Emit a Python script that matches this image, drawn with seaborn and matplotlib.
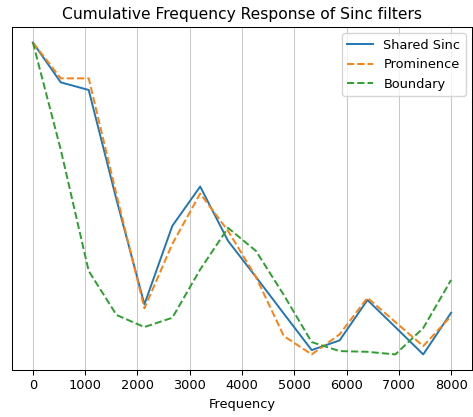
import numpy as np
import pandas as pd
import matplotlib
matplotlib.use("Agg")
import matplotlib.pyplot as plt
import seaborn as sns

freqs = [0, 533, 1067, 1600, 2133, 2667, 3200, 3733, 4267, 4800, 5333, 5867, 6400, 6933, 7467, 8000]
shared_sinc = [32.8, 28.83, 28.07, 17.1, 6.67, 14.5, 18.43, 13.0, 9.4, 5.74, 2.1, 3.07, 7.1, 4.4, 1.67, 5.83]
prominence = [32.8, 29.23, 29.23, 17.6, 6.27, 12.7, 17.73, 14.0, 9.4, 3.5, 1.67, 3.67, 7.33, 4.9, 2.5, 5.5]
boundary = [32.8, 22.1, 10.0, 5.6, 4.4, 5.33, 10.15, 14.3, 12.0, 7.6, 2.9, 2.0, 1.93, 1.67, 4.3, 9.1]
series_names = ["Shared Sinc", "Prominence", "Boundary"]
xticks = [0, 1000, 2000, 3000, 4000, 5000, 6000, 7000, 8000]

df = pd.DataFrame({
    "Frequency": freqs * 3,
    "Response": shared_sinc + prominence + boundary,
    "Filter": [n for n in series_names for _ in freqs],
})

s = 0.93
plt.rcParams.update({
    "font.size": 10 * s,
    "axes.titlesize": 12 * s,
    "axes.labelsize": 10 * s,
    "xtick.labelsize": 10 * s,
    "legend.fontsize": 10 * s,
    "xtick.major.size": 3.5 * s,
    "xtick.major.width": 0.8 * s,
    "axes.linewidth": 0.8 * s,
})

fig = plt.figure(figsize=(4.73, 4.17), dpi=100)
ax = fig.add_axes([12 / 473, 1 - 370 / 417, 460 / 473, 343 / 417])

palette = {"Shared Sinc": "#1f77b4", "Prominence": "#ff7f0e", "Boundary": "#2ca02c"}
dashes = {"Shared Sinc": "", "Prominence": (3.7, 1.6), "Boundary": (3.7, 1.6)}
sns.lineplot(data=df, x="Frequency", y="Response", hue="Filter", style="Filter",
             palette=palette, dashes=dashes, linewidth=1.5 * s, ax=ax)

ax.set_xticks(xticks)
ax.set_yticks([])
ax.set_ylabel("")
ax.set_xlabel("Frequency")
ax.grid(axis="x", color="#c8c8c8", linewidth=0.8 * s)
ax.set_axisbelow(True)
ax.set_title("Cumulative Frequency Response of Sinc filters")
ax.legend(loc="upper right", title=None)

fig.savefig("out.png", dpi=100)
